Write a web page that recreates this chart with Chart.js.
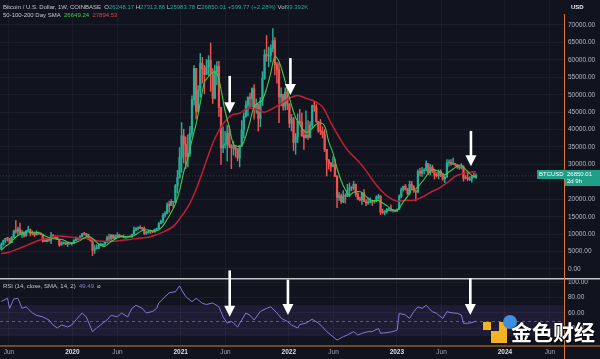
<!DOCTYPE html>
<html><head><meta charset="utf-8">
<script src="https://cdn.jsdelivr.net/npm/chart.js@4.4.1/dist/chart.umd.min.js"></script>
<style>
html,body{margin:0;padding:0;background:#11141f;width:600px;height:359px;overflow:hidden;font-family:"Liberation Sans",Arial,sans-serif}
canvas{position:absolute;left:0}
#main{top:0}
#rsi{top:280px}
#ov{top:0;pointer-events:none}
.t{position:absolute;white-space:nowrap;font-size:6px;line-height:7px;color:#c3c6ce}
.g{color:#26a69a}.r{color:#ef5350}.p{color:#8f7fe0}
.box{position:absolute;background:#1f9e88;color:#fff;font-size:6px;line-height:7px;padding:1px 2px;white-space:nowrap}
</style></head>
<body>
<canvas id="main" width="600" height="278"></canvas>
<canvas id="rsi" width="600" height="79"></canvas>
<canvas id="ov" width="600" height="359"></canvas>
<div class="t" style="left:3px;top:4px">Bitcoin / U.S. Dollar, 1W, COINBASE&nbsp; O<span class="g">26248.17</span> H<span class="g">27313.86</span> L<span class="g">25983.78</span> C<span class="g">26850.01 +599.77 (+2.28%)</span> Vol<span class="g">99.392K</span></div>
<div class="t" style="left:3px;top:12px">50-100-200 Day SMA&nbsp; <span style="color:#3fcf4f">26649.24</span>&nbsp; <span style="color:#e0404a">27894.53</span></div>
<div class="t" style="left:3px;top:283px">RSI (14, close, SMA, 14, 2)&nbsp; <span class="p">49.49</span>&nbsp; ⌀</div>
<div class="t" style="left:571px;top:4px;color:#e8e9ee;font-weight:bold">USD</div>
<div id="bx1" class="box">BTCUSD</div>
<div id="bx2" class="box">26850.01<br>2d 9h</div>
<div style="position:absolute;left:483px;top:322px;width:8px;height:8px;background:#f4b323"></div>
<div style="position:absolute;left:491px;top:331px;width:8px;height:12px;background:#f4b323"></div>
<div style="position:absolute;left:499px;top:322px;width:8px;height:21px;background:#f4b323"></div>
<div style="position:absolute;left:503px;top:315px;width:14px;height:14px;border-radius:50%;background:#3d8fe0"></div>
<div style="position:absolute;left:511px;top:318px;font-size:21px;line-height:26px;font-weight:bold;color:#fff;font-family:'Noto Sans CJK SC',sans-serif;text-shadow:0 0 2px #000,1px 1px 1px #000">金色财经</div>

<script>
// ---- weekly candles, first week starts 2019-05-06 (index 0), last 2023-09-25 ----
const opens = [5700,6970,8190,8740,8730,7640,8980,10850,10800,11450,10200,10580,9500,10950,11300,10250,10150,9770,10400,10300,
10000,8050,7870,8300,8220,9550,9200,9050,8500,6900,7400,7500,7100,7500,7300,7350,8180,8700,8600,9350,
10150,9900,9950,8550,8050,5350,5850,5900,6800,6900,7100,7700,8900,8750,9700,8750,9450,9750,9350,9300,
9100,9100,9250,9200,9950,11100,11700,11900,11650,11700,10250,10350,10900,10750,10650,11400,11500,13050,13750,15450,
15950,18400,18200,19350,19150,23850,26250,32000,38200,35800,32250,33100,38900,48600,57500,45200,51250,59000,57400,55800,
58000,59900,56200,49000,56600,58200,46400,34700,35600,35800,39000,35500,34700,35300,34250,31800,35400,39850,43800,47000,
49300,48900,51750,46050,47250,43200,48200,54700,61500,61300,61300,63300,65500,58650,57250,49350,50100,46700,50800,47300,
41850,43100,36300,37900,42400,42100,38300,37700,38400,37800,41300,46850,46400,42200,39700,39450,38500,34300,31300,30300,
29450,29900,26600,20550,21000,19300,20850,20800,22600,23300,23200,24300,21500,20050,19800,21800,19400,18900,19050,19450,
19250,19550,20650,20900,16300,16250,16450,17100,17100,16750,16850,16600,17150,20850,22700,23750,22950,21800,24300,23550,
22450,22100,28000,27500,28200,28350,30300,27600,29250,28450,26900,26750,28050,27100,25850,26350,30450,30600,30150,30250,
29900,29250,29050,29300,26100,26050,25850,25850,26550,26248];
const highs = [7500,8330,8800,9090,8780,9350,11200,13880,12000,13200,11100,10650,11000,12300,11500,10950,10650,10950,10450,10350,
10050,8500,8650,8450,10500,9950,9550,9150,8550,7850,7750,7650,7550,7700,7600,8450,9200,8750,9600,10150,
10500,10250,10000,9200,8100,6900,6950,7300,7450,7250,7750,9450,10050,9900,9850,9750,10400,9980,9600,9750,
9350,9450,9300,10000,12100,11900,12050,12450,11700,12100,10800,11150,10950,10950,11450,11750,13350,14050,15950,16500,
18950,19450,19900,19400,24250,28300,34800,42000,40100,37900,38500,40950,49700,58350,57500,52650,61800,60700,58400,60100,
61200,64850,57500,58500,59500,59600,46400,40800,39500,41300,41000,35700,36600,35300,34650,35400,42600,44800,48150,49400,
50500,52000,52900,48850,47350,49200,56600,62900,67000,63700,64300,69000,66400,59300,59100,51950,50100,52000,52100,47500,
44400,43500,38900,44500,45800,44700,40000,45400,42600,42300,47000,48200,47200,42400,42900,40800,40000,34300,31400,30600,
32200,31550,26800,22000,21500,22500,21600,24300,24650,23650,25200,24450,21900,20600,21850,22800,19950,20400,20450,19650,
19700,21000,21450,21050,17200,16800,17400,17400,18400,16950,16950,17200,21300,23300,23800,24250,23150,25250,25150,23900,
22600,28450,28900,29200,28800,31000,30300,30000,29800,28650,27650,28450,28450,27400,26800,31400,31300,31400,31800,30350,
29950,29700,30250,29650,26800,28150,26450,26800,27500,27314];
const lows = [5650,6850,7480,8000,7450,7520,8980,10300,9650,10100,9050,9120,9400,10900,9500,9750,9350,9760,9900,9800,
7700,7850,7750,7900,7300,8950,8700,8400,6500,6800,7100,6950,6450,7100,6850,7350,8050,8250,8550,9150,
9700,9300,8450,8000,3850,4450,5700,5850,6750,6500,6800,7650,8100,8200,8800,8650,9250,9100,9200,8950,
8950,9050,9100,9150,9950,11000,11200,11550,11100,9900,9900,10250,10150,10400,10550,11200,11400,12950,13200,14850,
15800,16200,18200,17600,19000,21800,26050,27700,30400,28800,29250,32300,37900,47000,43000,45000,49300,53300,50300,55800,
55500,51000,47500,48800,52900,43800,30000,33400,34700,31000,34800,28800,32700,32100,31000,29300,35200,37600,43500,43900,
46350,46600,43000,44700,39600,40800,46900,54400,59600,58000,59400,62300,55700,53300,42000,46800,45600,45600,45700,40600,
39600,34000,32900,36300,41700,38000,34300,37500,37200,37600,40500,45200,42100,39200,38600,37600,33700,26700,28650,28000,
29300,26500,17600,19700,18800,19000,18900,20800,20700,22450,22700,20800,19800,19550,18500,19350,18150,18500,19000,18200,
18900,19250,20050,15600,15800,15500,16000,16750,16550,16300,16350,16550,17100,20400,22300,22600,21350,21400,22750,21950,
19550,21800,26600,26550,27250,28150,27100,26950,27650,25800,26350,25850,26500,25400,24800,26250,29500,29700,29950,29550,
28850,28600,28700,25200,25800,25350,25400,24900,26400,25984];
const closes = [6970,8190,8740,8730,7640,8980,10850,10800,11450,10200,10580,9500,10950,11300,10250,10150,9770,10400,10300,10000,
8050,7870,8300,8220,9550,9200,9050,8500,6900,7400,7500,7100,7500,7300,7350,8180,8700,8600,9350,10150,
9900,9950,8550,8050,5350,5850,5900,6800,6900,7100,7700,8900,8750,9700,8750,9450,9750,9350,9300,9100,
9100,9250,9200,9950,11100,11700,11900,11650,11700,10250,10350,10900,10750,10650,11400,11500,13050,13750,15450,15950,
18400,18200,19350,19150,23850,26250,32000,38200,35800,32250,33100,38900,48600,57500,45200,51250,59000,57400,55800,58000,
59900,56200,49000,56600,58200,46400,34700,35600,35800,39000,35500,34700,35300,34250,31800,35400,39850,43800,47000,49300,
48900,51750,46050,47250,43200,48200,54700,61500,61300,61300,63300,65500,58650,57250,49350,50100,46700,50800,47300,41850,
43100,36300,37900,42400,42100,38300,37700,38400,37800,41300,46850,46400,42200,39700,39450,38500,34300,31300,30300,29450,
29900,26600,20550,21000,19300,20850,20800,22600,23300,23200,24300,21500,20050,19800,21800,19400,18900,19050,19450,19250,
19550,20650,20900,16300,16250,16450,17100,17100,16750,16850,16600,17150,20850,22700,23750,22950,21800,24300,23550,22450,
22100,28000,27500,28200,28350,30300,27600,29250,28450,26900,26750,28050,27100,25850,26350,30450,30600,30150,30250,29900,
29250,29050,29300,26100,26050,25850,25850,26550,26250,26850];

// ---- 50-day SMA (green), read at week indices ----
const smaFastWeeks = [0,2,4,6,8,10,12,14,16,18,20,22,24,26,28,30,32,34,36,38,40,42,44,46,48,50,52,54,56,58,60,62,64,66,68,70,72,74,76,78,80,82,84,86,88,90,92,94,96,98,100,102,104,106,108,110,112,114,116,118,120,122,124,126,128,130,132,134,136,138,140,142,144,146,148,150,152,154,156,158,160,162,164,166,168,170,172,174,176,178,180,182,184,186,188,190,192,194,196,198,200,202,204,206,208,210,212,214,216,218,220,222,224,226,228,229];
const smaFast = [5360,6470,7320,8590,9600,10070,10620,10600,10360,10450,9850,9240,8900,8610,8530,8300,7710,7290,7660,8140,8890,9310,8760,7650,6770,6510,7440,8260,9000,9290,9260,9290,9570,10310,11030,11240,11070,10860,11230,12360,14210,16310,18620,22460,27800,31640,36980,41620,47650,53540,55220,56470,56240,51570,45190,40740,35800,35190,35260,38200,42290,46660,47640,48580,51740,56210,60890,59520,55840,51450,47030,43420,41560,39690,39230,40350,41520,41960,41060,36540,33310,28910,25300,22710,21200,22050,22250,21990,20820,19780,19630,19680,18910,18170,17260,16730,17490,19240,20830,22840,22990,24240,25740,27440,28520,28230,27730,27060,27880,28680,29560,29790,28560,27350,26560,26649];
// ---- 200-day SMA (red) ----
const smaSlowWeeks = [0,3,7,11,15,19,23,27,31,35,39,43,47,51,55,59,63,67,71,75,79,83,87,91,95,99,103,107,111,115,119,123,127,131,135,139,143,147,151,155,159,163,167,171,175,179,183,187,191,195,199,203,207,211,215,219,223,227,229];
const smaSlow = [4450,4670,5520,6460,7470,8370,8910,9450,9310,9030,8850,8630,8040,7970,7990,8290,8550,8890,9130,9860,10850,12220,15180,18840,24420,31100,37430,41600,44100,44680,46110,45800,45000,46060,47500,48990,49810,48970,48200,46490,41990,37800,34120,31710,29020,25600,22660,20570,19470,19710,19700,20590,21980,23140,24680,26590,27430,27860,27895];
// ---- RSI(14) ----
const rsiWeeks = [0,3,4,6,8,10,12,15,17,20,23,25,27,29,32,34,36,39,41,44,46,49,51,53,56,58,61,63,65,68,70,73,75,76,79,81,84,86,87,89,92,94,97,99,102,105,107,109,111,112,114,116,118,120,122,125,128,130,133,135,138,140,143,144,147,150,153,155,157,160,162,165,167,170,172,174,177,179,182,183,186,189,191,192,195,197,199,201,203,205,207,208,210,213,215,217,220,222,223,225,227,229];
const rsiValues = [75,79,66,78,79,66,68,60,57,55,51,44.5,40.6,44.5,42,44.5,51,60,55,36,40.6,47,51,57,55,60,55,66,70,66,60,62,66,73,81,86,87.5,95,90,81,74.6,79,72.5,71,73,68,55,47,49,47,42,51,60,57,51,62,66,68,60,53.5,49,44.5,40.6,45,47,52,47,42,36,29.4,25,29.4,31.6,36,31.6,33.8,36,36,40,33.8,34.6,36,38,59.6,57.4,53,61.7,68,66,70,64,61.7,59.6,53,61.7,60.4,59.6,57.4,46.7,46.7,47.5,49.49];

// ---- axes ----
const timeTickWeeks = [3.71,34.29,56,86.57,108.14,138.71,160.29,190.86,212.43,243,264.71];
const timeTickLabels = ['Jun','2020','Jun','2021','Jun','2022','Jun','2023','Jun','2024','Jun'];
const priceTicks = [0,5000,10000,15000,20000,25000,30000,35000,40000,45000,50000,55000,60000,65000,70000];
const rsiTicks = [40,60,80,100];

// ---- annotations (arrows) in data units ----
const arrowsMain = [{week:110.2,from:55400,to:44700},{week:139.5,from:60500,to:49900},{week:226.6,from:39600,to:29500}];
const arrowsRsi = [{week:110.2,from:115,to:55},{week:138.3,from:103,to:57.5},{week:226.3,from:105,to:57.5}];

const UP='#26ad96', DOWN='#ef5350';
const XMIN=-0.63, XMAX=271.5;
const candleCol = opens.map((o,i)=> closes[i]>=o ? UP : DOWN);
const gridCol='rgba(255,255,255,0.045)';
const tickFont={family:'Liberation Sans',size:6.5};

function xScale(showLabels){
  return {type:'linear',min:XMIN,max:XMAX,offset:false,
    grid:{color:gridCol,drawTicks:false,offset:false},border:{display:false},
    afterBuildTicks:s=>{s.ticks=timeTickWeeks.map(v=>({value:v}));},
    afterFit:s=>{s.height=showLabels?13:0;s.paddingLeft=0;s.paddingRight=0;},
    ticks:{display:showLabels,autoSkip:false,maxRotation:0,padding:2.5,
      callback:(v,i)=>timeTickLabels[i],
      color:c=>(/^\d{4}$/.test(timeTickLabels[c.index])?'#dcdee4':'#a0a3ab'),
      font:c=>({family:'Liberation Sans',size:6.5,weight:(/^\d{4}$/.test(timeTickLabels[c.index])?'bold':'normal')})}};
}

const mainChart = new Chart(document.getElementById('main'),{
  type:'bar',
  data:{datasets:[
    {type:'line',data:smaFastWeeks.map((w,i)=>({x:w,y:smaFast[i]})),borderColor:'#45c94a',borderWidth:1.1,pointRadius:0,tension:0.35,order:0},
    {type:'line',data:smaSlowWeeks.map((w,i)=>({x:w,y:smaSlow[i]})),borderColor:'#c21f33',borderWidth:1.5,pointRadius:0,tension:0.35,order:0},
    {data:lows.map((l,i)=>({x:i,y:[l,highs[i]]})),backgroundColor:candleCol,barThickness:0.8,grouped:false,order:2},
    {data:opens.map((o,i)=>({x:i,y:[o,closes[i]]})),backgroundColor:candleCol,barThickness:1.6,minBarLength:1,grouped:false,order:1}
  ]},
  options:{responsive:false,animation:false,events:[],devicePixelRatio:1,
    layout:{padding:0},
    plugins:{legend:{display:false},tooltip:{enabled:false}},
    scales:{
      x:xScale(false),
      y:{position:'right',min:-2582,max:77172,
        grid:{color:gridCol,drawTicks:false},border:{display:false},
        afterBuildTicks:s=>{s.ticks=priceTicks.map(v=>({value:v}));},
        afterFit:s=>{s.width=36;s.paddingTop=0;s.paddingBottom=0;},
        ticks:{padding:4,color:'#b6b9c2',font:tickFont,callback:v=>Number(v).toFixed(2)}}
    }},
  plugins:[{id:'priceLine',afterDatasetsDraw(c){
    const y=c.scales.y.getPixelForValue(closes[closes.length-1]);const ctx=c.ctx;
    ctx.save();ctx.strokeStyle='rgba(120,190,180,0.3)';ctx.setLineDash([1,2]);ctx.lineWidth=1;
    ctx.beginPath();ctx.moveTo(c.chartArea.left,y+0.5);ctx.lineTo(c.chartArea.right,y+0.5);ctx.stroke();ctx.restore();}}]
});

const rsiChart = new Chart(document.getElementById('rsi'),{
  type:'line',
  data:{datasets:[{data:rsiWeeks.map((w,i)=>({x:w,y:rsiValues[i]})),borderColor:'#8577d6',borderWidth:1,pointRadius:0,tension:0}]},
  options:{responsive:false,animation:false,events:[],devicePixelRatio:1,
    layout:{padding:0},
    plugins:{legend:{display:false},tooltip:{enabled:false}},
    scales:{
      x:xScale(true),
      y:{position:'right',min:17.4,max:102.6,
        grid:{color:gridCol,drawTicks:false},border:{display:false},
        afterBuildTicks:s=>{s.ticks=rsiTicks.map(v=>({value:v}));},
        afterFit:s=>{s.width=36;s.paddingTop=0;s.paddingBottom=0;},
        ticks:{padding:4,color:'#b6b9c2',font:tickFont,callback:v=>Number(v).toFixed(2)}}
    }},
  plugins:[{id:'band',beforeDatasetsDraw(c){
    const s=c.scales.y,a=c.chartArea,ctx=c.ctx;
    const y70=s.getPixelForValue(70),y30=s.getPixelForValue(30),y50=s.getPixelForValue(50);
    ctx.save();ctx.fillStyle='rgba(126,87,194,0.13)';ctx.fillRect(a.left,y70,a.right-a.left,y30-y70);
    ctx.strokeStyle='rgba(140,143,160,0.55)';ctx.setLineDash([3,3]);ctx.lineWidth=1;
    ctx.beginPath();ctx.moveTo(a.left,Math.round(y50)+0.5);ctx.lineTo(a.right,Math.round(y50)+0.5);ctx.stroke();ctx.restore();}}]
});

// ---- overlay: separators, orange borders, arrows ----
(function(){
  const ctx=document.getElementById('ov').getContext('2d');
  ctx.fillStyle='#c4c6cc';ctx.fillRect(0,278,600,1.5);
  ctx.fillStyle='#d97b35';ctx.fillRect(564,14,1,345);ctx.fillRect(0,345.5,600,1);
  function arrow(x,y0,y1){
    const head=11;ctx.fillStyle='#ffffff';
    ctx.fillRect(x-1.3,y0,2.6,y1-y0-head+1);
    ctx.beginPath();ctx.moveTo(x-5.5,y1-head);ctx.lineTo(x+5.5,y1-head);ctx.lineTo(x,y1);ctx.closePath();ctx.fill();
  }
  const mx=mainChart.scales.x,my=mainChart.scales.y;
  arrowsMain.forEach(a=>arrow(mx.getPixelForValue(a.week),my.getPixelForValue(a.from),my.getPixelForValue(a.to)));
  const rx=rsiChart.scales.x,ry=rsiChart.scales.y;
  arrowsRsi.forEach(a=>arrow(rx.getPixelForValue(a.week),280+ry.getPixelForValue(a.from),280+ry.getPixelForValue(a.to)));
  const py=my.getPixelForValue(closes[closes.length-1]);
  const b1=document.getElementById('bx1');b1.style.left='537px';b1.style.top=(py-5)+'px';
  const b2=document.getElementById('bx2');b2.style.left='565px';b2.style.top=(py-5)+'px';b2.style.width='31px';
})();
</script>
</body></html>
